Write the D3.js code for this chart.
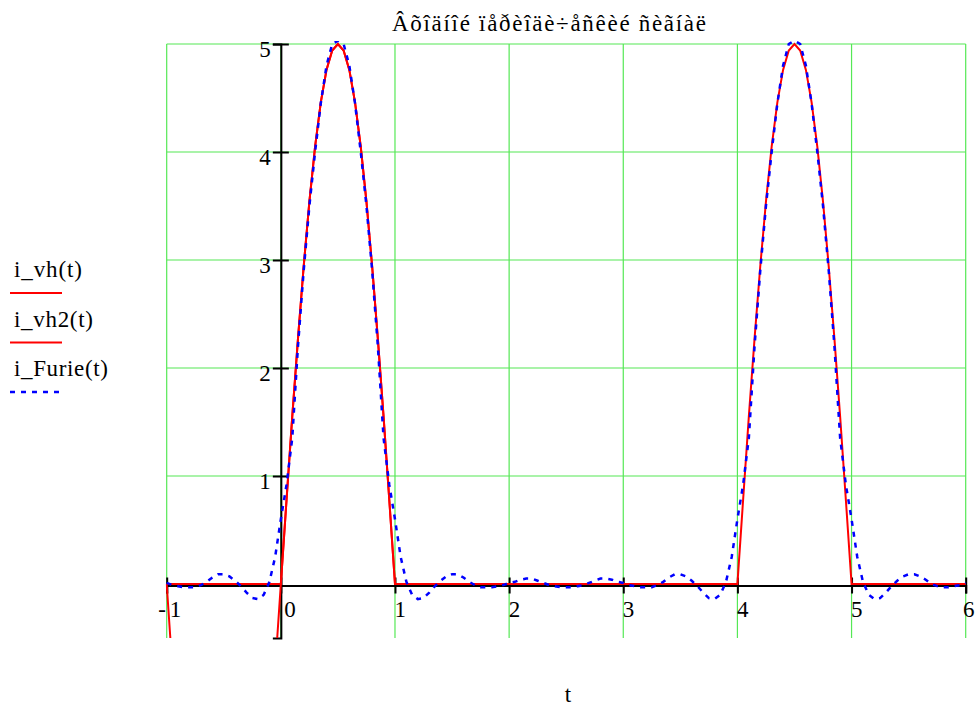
<!DOCTYPE html>
<html>
<head>
<meta charset="utf-8">
<script src="https://cdn.jsdelivr.net/npm/d3@7"></script>
<style>
  html, body { margin: 0; padding: 0; background: #fff; }
  svg { display: block; }
</style>
</head>
<body>
<svg id="chart" width="975" height="707"></svg>
<script>
// ---- data -------------------------------------------------------------
const chartTitle = "Âõîäíîé ïåðèîäè÷åñêèé ñèãíàë";
const xLabel = "t";
const seriesNames = ["i_vh(t)", "i_vh2(t)", "i_Furie(t)"];

const xTicks = [-1, 0, 1, 2, 3, 4, 5, 6];
const yTicks = [1, 2, 3, 4, 5];

// i_vh(t): single sine arc over one period [-1, 1]
const vhT = [-1, -0.965, -0.5, -0.035, 0, 0.05, 0.1, 0.15, 0.2, 0.25, 0.3, 0.35, 0.4, 0.45, 0.5,
             0.55, 0.6, 0.65, 0.7, 0.75, 0.8, 0.85, 0.9, 0.95, 1];
const vhI = [0, -0.55, -5, -0.55, 0, 0.78, 1.55, 2.27, 2.94, 3.54, 4.05, 4.46, 4.76, 4.94, 5.0,
             4.94, 4.76, 4.46, 4.05, 3.54, 2.94, 2.27, 1.55, 0.78, 0];

// i_vh2(t): periodic pulse train on [-1, 6]
const vh2T = [-1, 0, 0.05, 0.1, 0.15, 0.2, 0.25, 0.3, 0.35, 0.4, 0.45, 0.5,
              0.55, 0.6, 0.65, 0.7, 0.75, 0.8, 0.85, 0.9, 0.95, 1,
              4, 4.05, 4.1, 4.15, 4.2, 4.25, 4.3, 4.35, 4.4, 4.45, 4.5,
              4.55, 4.6, 4.65, 4.7, 4.75, 4.8, 4.85, 4.9, 4.95, 5, 6];
const vh2I = [0, 0, 0.78, 1.55, 2.27, 2.94, 3.54, 4.05, 4.46, 4.76, 4.94, 5.0,
              4.94, 4.76, 4.46, 4.05, 3.54, 2.94, 2.27, 1.55, 0.78, 0,
              0, 0.78, 1.55, 2.27, 2.94, 3.54, 4.05, 4.46, 4.76, 4.94, 5.0,
              4.94, 4.76, 4.46, 4.05, 3.54, 2.94, 2.27, 1.55, 0.78, 0, 0];

// i_Furie(t): truncated Fourier series, sampled every 0.05 from t = -1 to t = 6
const furieT0 = -1, furieStep = 0.05;
const furieI = [
   0.01, -0.01, -0.02, -0.03, -0.03, -0.03, -0.01,  0.02,  0.06,  0.09,   // -1.00 .. -0.55
   0.09,  0.07,  0.03, -0.02, -0.08, -0.13, -0.14, -0.10,  0.02,  0.25,   // -0.50 .. -0.05
   0.60,  0.92,  1.35,  2.20,  2.90,  3.50,  4.00,  4.45,  4.80,  5.00,   //  0.00 ..  0.45
   5.03,  5.00,  4.80,  4.45,  4.00,  3.50,  2.90,  2.20,  1.35,  0.92,   //  0.50 ..  0.95
   0.60,  0.25,  0.02, -0.10, -0.14, -0.13, -0.08, -0.02,  0.03,  0.07,   //  1.00 ..  1.45
   0.09,  0.09,  0.06,  0.02, -0.01, -0.03, -0.03, -0.03, -0.02, -0.01,   //  1.50 ..  1.95
   0.01,  0.02,  0.04,  0.05,  0.05,  0.03,  0.01, -0.01, -0.02, -0.03,   //  2.00 ..  2.45
  -0.03, -0.03, -0.02, -0.01,  0.01,  0.03,  0.05,  0.05,  0.04,  0.02,   //  2.50 ..  2.95
   0.01, -0.01, -0.02, -0.03, -0.03, -0.03, -0.01,  0.02,  0.06,  0.09,   //  3.00 ..  3.45
   0.09,  0.07,  0.03, -0.02, -0.08, -0.13, -0.14, -0.10,  0.02,  0.25,   //  3.50 ..  3.95
   0.60,  0.92,  1.35,  2.20,  2.90,  3.50,  4.00,  4.45,  4.80,  5.00,   //  4.00 ..  4.45
   5.03,  5.00,  4.80,  4.45,  4.00,  3.50,  2.90,  2.20,  1.35,  0.92,   //  4.50 ..  4.95
   0.60,  0.25,  0.02, -0.10, -0.14, -0.13, -0.08, -0.02,  0.03,  0.07,   //  5.00 ..  5.45
   0.09,  0.09,  0.07,  0.04,  0.00, -0.02, -0.03, -0.03, -0.02, -0.01,   //  5.50 ..  5.95
   0.01                                                                    //  6.00
];

// ---- layout -----------------------------------------------------------
const W = 975;
const plot = { left: 166.7, right: 965.7, top: 44, bottom: 638 };
const FONT = 23;
const FAMILY = "'Liberation Serif', 'Times New Roman', Tinos, 'DejaVu Serif', serif";
const gridColor = "#55e855";
const red = "#ff0000", blue = "#0000ff";

const svg = d3.select("#chart")
  .attr("font-family", FAMILY)
  .style("font-family", FAMILY);

const x = d3.scaleLinear().domain([-1, 6]).range([plot.left, plot.right]);
const y = d3.scaleLinear().domain([-0.5, 5]).range([plot.bottom, plot.top]);

function styleText(sel) {
  return sel.attr("font-family", FAMILY).style("font-family", FAMILY)
            .attr("font-size", FONT).attr("fill", "#000");
}

// title (set in the wide, loosely spaced face of the original worksheet)
svg.append("text")
  .attr("x", 392).attr("y", 31)
  .call(styleText)
  .attr("textLength", 314).attr("lengthAdjust", "spacing")
  .text(chartTitle);

// grid
const grid = svg.append("g").attr("stroke", gridColor).attr("stroke-width", 1.2);
grid.selectAll("line.v").data(xTicks).join("line")
  .attr("class", "v")
  .attr("x1", d => x(d)).attr("x2", d => x(d))
  .attr("y1", plot.top).attr("y2", plot.bottom);
grid.selectAll("line.h").data(yTicks).join("line")
  .attr("class", "h")
  .attr("x1", plot.left).attr("x2", plot.right)
  .attr("y1", d => y(d)).attr("y2", d => y(d));

// axes (crossing at the origin)
const yAxis = svg.append("g")
  .attr("transform", `translate(${x(0)},0)`)
  .call(d3.axisLeft(y).tickValues(yTicks).tickSizeOuter(0).tickSize(8).tickFormat(d3.format("d")));
yAxis.attr("font-family", FAMILY).attr("font-size", FONT);
yAxis.select(".domain").attr("stroke", "#000").attr("stroke-width", 2);
yAxis.selectAll(".tick line").attr("x1", -8).attr("x2", 8).attr("stroke", "#000").attr("stroke-width", 2);
yAxis.selectAll(".tick text")
  .attr("x", -10).attr("dy", null).attr("y", 12)
  .call(styleText);

const xAxis = svg.append("g")
  .attr("transform", `translate(0,${y(0) + 1.5})`)
  .call(d3.axisBottom(x).tickValues(xTicks).tickSizeOuter(0).tickSize(8).tickFormat(d3.format("d")));
xAxis.attr("font-family", FAMILY).attr("font-size", FONT);
xAxis.select(".domain").attr("stroke", "#000").attr("stroke-width", 2);
xAxis.selectAll(".tick line").attr("y1", -8).attr("y2", 8).attr("stroke", "#000").attr("stroke-width", 2);
xAxis.selectAll(".tick text")
  .attr("text-anchor", "start")
  .attr("x", -1)
  .attr("y", 31.5).attr("dy", null)
  .call(styleText)
  .each(function(d) {
    const t = d3.select(this);
    if (d === 0) t.attr("x", 3);
    if (d < 0) {
      t.text("").attr("x", -9);
      t.append("tspan").text("-");
      t.append("tspan").attr("dx", 4).text(String(Math.abs(d)));
    }
    // keep the last label inside the canvas
    const box = this.getBBox();
    const right = x(d) + box.x + box.width;
    if (right > W - 1) t.attr("x", +t.attr("x") - (right - (W - 1)));
  });

// axis title
svg.append("text")
  .attr("x", 568).attr("y", 702)
  .attr("text-anchor", "middle")
  .call(styleText)
  .text(xLabel);

// traces, clipped to the plotting region
svg.append("clipPath").attr("id", "plotClip")
  .append("rect")
  .attr("x", plot.left - 1).attr("y", plot.top - 3)
  .attr("width", plot.right - plot.left + 2).attr("height", plot.bottom - plot.top + 3);

const traces = svg.append("g").attr("clip-path", "url(#plotClip)");
const line = d3.line().x(d => x(d[0])).y(d => y(d[1]));

traces.append("path")
  .datum(d3.zip(vhT, vhI))
  .attr("d", line).attr("fill", "none")
  .attr("stroke", red).attr("stroke-width", 2);

traces.append("path")
  .datum(d3.zip(vh2T, vh2I))
  .attr("d", line).attr("fill", "none")
  .attr("stroke", red).attr("stroke-width", 2);

const furie = furieI.map((v, i) => [furieT0 + i * furieStep, v]);
traces.append("path")
  .datum(furie)
  .attr("d", line).attr("fill", "none")
  .attr("stroke", blue).attr("stroke-width", 2.5)
  .attr("stroke-dasharray", "5,6");

// legend
const legendItems = [
  { name: seriesNames[0], color: red, dash: null, w: 2, len: 68 },
  { name: seriesNames[1], color: red, dash: null, w: 2, len: 79 },
  { name: seriesNames[2], color: blue, dash: "5,6", w: 2.5, len: 94 }
];
const legend = svg.append("g");
legendItems.forEach((it, i) => {
  const base = 277 + i * 49.5;
  legend.append("text")
    .attr("x", 14).attr("y", base)
    .call(styleText)
    .attr("textLength", it.len).attr("lengthAdjust", "spacing")
    .text(it.name);
  legend.append("line")
    .attr("x1", 10).attr("x2", 62)
    .attr("y1", base + 16).attr("y2", base + 16)
    .attr("stroke", it.color).attr("stroke-width", it.w)
    .attr("stroke-dasharray", it.dash);
});
</script>
</body>
</html>
